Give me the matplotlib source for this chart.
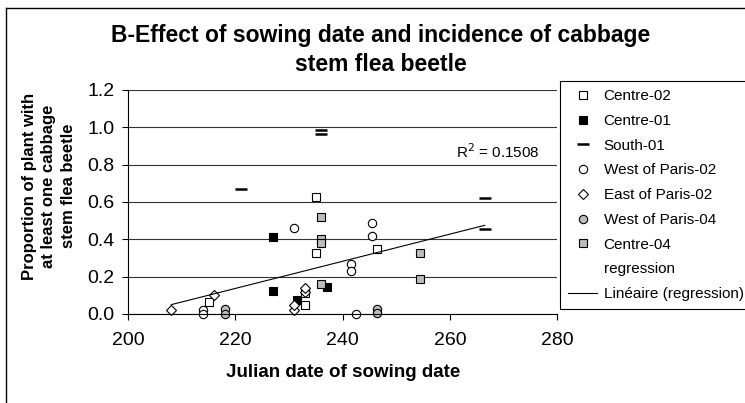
import matplotlib
matplotlib.use('Agg')
import matplotlib.pyplot as plt
from matplotlib.lines import Line2D

plt.rcParams['font.family'] = ['Liberation Sans', 'DejaVu Sans']

# Datos (dia juliano, proporcion)
centre02_x = [215, 235, 235, 233, 233, 246.5]
centre02_y = [0.065, 0.625, 0.325, 0.05, 0.11, 0.35]
centre01_x = [227, 227, 231.5, 237]
centre01_y = [0.415, 0.125, 0.075, 0.145]
south01_x = [221, 236, 236, 266.5, 266.5]
south01_y = [0.67, 0.985, 0.962, 0.62, 0.455]
wparis02_x = [214, 214, 231, 241.5, 241.5, 242.5, 245.5, 245.5]
wparis02_y = [0.02, 0.0, 0.46, 0.27, 0.23, 0.0, 0.49, 0.42]
eparis02_x = [208, 216, 231, 231, 233, 233]
eparis02_y = [0.02, 0.10, 0.02, 0.05, 0.12, 0.14]
wparis04_x = [218, 218, 246.5, 246.5]
wparis04_y = [0.025, 0.0, 0.025, 0.005]
centre04_x = [236, 236, 236, 236, 254.5, 254.5]
centre04_y = [0.52, 0.40, 0.38, 0.16, 0.325, 0.19]
# Linea de tendencia (extremos leidos)
trend_x = [208, 266.5]
trend_y = [0.05, 0.475]
r2_text = 'R$^2$ = 0.1508'

W, H = 745, 403
fig = plt.figure(figsize=(W / 100, H / 100), dpi=100)
ax = fig.add_axes([128.3 / W, 1 - 314 / H, (557 - 128.3) / W, (314 - 90) / H])

gray = '#bcbcbc'
kw = dict(linestyle='None', clip_on=False, markeredgecolor='black', markeredgewidth=0.8)
ax.plot(centre02_x, centre02_y, marker='s', markersize=5.5, markerfacecolor='white', label='Centre-02', **kw)
ax.plot(centre01_x, centre01_y, marker='s', markersize=5.5, markerfacecolor='black', label='Centre-01', **kw)
ax.plot(south01_x, south01_y, linestyle='None', marker='_', markersize=8, markeredgewidth=1.8,
        color='black', clip_on=False, label='South-01')
ax.plot(wparis02_x, wparis02_y, marker='o', markersize=6, markerfacecolor='white', label='West of Paris-02', **kw)
ax.plot(eparis02_x, eparis02_y, marker='D', markersize=5, markerfacecolor='white', label='East of Paris-02', **kw)
ax.plot(wparis04_x, wparis04_y, marker='o', markersize=6, markerfacecolor=gray, label='West of Paris-04', **kw)
ax.plot(centre04_x, centre04_y, marker='s', markersize=5.5, markerfacecolor=gray, label='Centre-04', **kw)
# serie oculta "regression"
ax.plot([], [], linestyle='None', marker='None', label='regression')
ax.plot(trend_x, trend_y, color='black', linewidth=0.8, label='Linéaire (regression)')

ax.text(276.8, 0.868, r2_text, ha='right', va='center', fontsize=11)

ax.set_xlim(200, 280)
ax.set_ylim(0, 1.2)
ax.set_xticks([200, 220, 240, 260, 280])
ax.set_yticks([0.0, 0.2, 0.4, 0.6, 0.8, 1.0, 1.2])
ax.set_yticklabels(['%.1f' % v for v in ax.get_yticks()])
ax.grid(axis='y', color='#333333', linewidth=0.8)
ax.set_axisbelow(True)
ax.spines['top'].set_visible(False)
ax.spines['right'].set_visible(False)
ax.spines['left'].set_linewidth(0.8)
ax.spines['bottom'].set_linewidth(0.8)
ax.tick_params(axis='both', direction='out', length=4, width=0.8, labelsize=14)
ax.tick_params(axis='x', pad=9)
ax.tick_params(axis='y', pad=6)

ax.set_xlabel('Julian date of sowing date', fontsize=13.5, fontweight='bold', labelpad=11)
fig.text(49 / W, 1 - 186 / H, 'Proportion of plant with\nat least one cabbage\nstem flea beetle',
         rotation=90, ha='center', va='center', fontsize=12, fontweight='bold', linespacing=1.4)
fig.text(381 / W, 1 - 50 / H, 'B-Effect of sowing date and incidence of cabbage\nstem flea beetle',
         ha='center', va='center', fontsize=16.5, fontweight='bold', linespacing=1.3)

leg = fig.legend(loc='upper left', bbox_to_anchor=(560 / W, 1 - 81 / H), fontsize=11,
                 frameon=True, fancybox=False, framealpha=1, edgecolor='black',
                 labelspacing=0.7, handlelength=1.9, handletextpad=0.4, borderpad=0.55,
                 borderaxespad=0)
leg.get_frame().set_linewidth(0.8)

# borde exterior del area del grafico (solo izquierda y arriba visibles)
fig.add_artist(Line2D([5.5 / W, 5.5 / W], [0, 1 - 7.5 / H], color='black', linewidth=1))
fig.add_artist(Line2D([5.5 / W, 1], [1 - 7.5 / H, 1 - 7.5 / H], color='black', linewidth=1))

fig.savefig('out.png', dpi=100)
